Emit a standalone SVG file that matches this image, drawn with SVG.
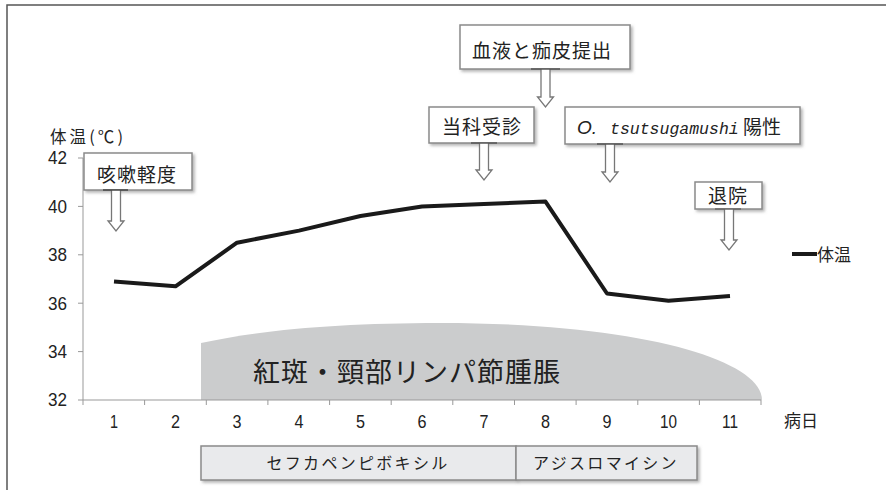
<svg xmlns="http://www.w3.org/2000/svg" width="886" height="490" viewBox="0 0 886 490">
<defs>
<filter id="sh" x="-10%" y="-20%" width="130%" height="160%">
<feDropShadow dx="2" dy="2" stdDeviation="1.5" flood-color="#777" flood-opacity="0.55"/>
</filter>
<style>
.jp{font-family:"Noto Sans CJK JP","Noto Sans",sans-serif;fill:#222}
.num{font-family:"Liberation Sans",Arial,sans-serif;fill:#222;font-size:18.5px}
.box{fill:#fff;stroke:#8a8a8a;stroke-width:1.5}
.med{fill:#e9eaec;stroke:#8a8a8a;stroke-width:1.5}
.arr{fill:#fff;stroke:#777;stroke-width:1.3}
.tick{stroke:#999;stroke-width:1}
.lbl{font-size:19px;letter-spacing:1px}
</style>
</defs>
<rect x="0" y="0" width="886" height="490" fill="#fff"/>
<path d="M7,490 V5 H886" fill="none" stroke="#555" stroke-width="1.5"/>

<!-- rash area -->
<g id="rash">
<path d="M201,400 V343 C260,330 340,323 440,323 C640,323 762,360 762,400 Z" fill="#cbcccd"/>
<text class="jp" x="253" y="382" font-size="27" letter-spacing="1">紅斑・頸部リンパ節腫脹</text>
</g>

<!-- axes -->
<g id="axes">
<line x1="83" y1="158" x2="83" y2="400" class="tick"/>
<line x1="83" y1="400" x2="761" y2="400" class="tick"/>
<g class="tick">
<line x1="78" y1="158" x2="83" y2="158"/><line x1="78" y1="206.4" x2="83" y2="206.4"/>
<line x1="78" y1="254.8" x2="83" y2="254.8"/><line x1="78" y1="303.2" x2="83" y2="303.2"/>
<line x1="78" y1="351.6" x2="83" y2="351.6"/><line x1="78" y1="400" x2="83" y2="400"/>
<line x1="83" y1="400" x2="83" y2="405"/><line x1="144.6" y1="400" x2="144.6" y2="405"/>
<line x1="206.3" y1="400" x2="206.3" y2="405"/><line x1="267.9" y1="400" x2="267.9" y2="405"/>
<line x1="329.6" y1="400" x2="329.6" y2="405"/><line x1="391.2" y1="400" x2="391.2" y2="405"/>
<line x1="452.8" y1="400" x2="452.8" y2="405"/><line x1="514.5" y1="400" x2="514.5" y2="405"/>
<line x1="576.1" y1="400" x2="576.1" y2="405"/><line x1="637.8" y1="400" x2="637.8" y2="405"/>
<line x1="699.4" y1="400" x2="699.4" y2="405"/><line x1="761" y1="400" x2="761" y2="405"/>
</g>
<g class="num" text-anchor="end">
<text x="67" y="164" textLength="19" lengthAdjust="spacingAndGlyphs">42</text>
<text x="67" y="212.5" textLength="19" lengthAdjust="spacingAndGlyphs">40</text>
<text x="67" y="261" textLength="19" lengthAdjust="spacingAndGlyphs">38</text>
<text x="67" y="309.5" textLength="19" lengthAdjust="spacingAndGlyphs">36</text>
<text x="67" y="358" textLength="19" lengthAdjust="spacingAndGlyphs">34</text>
<text x="67" y="406" textLength="19" lengthAdjust="spacingAndGlyphs">32</text>
</g>
<g class="num">
<text x="110" y="428" textLength="8" lengthAdjust="spacingAndGlyphs">1</text>
<text x="171" y="428" textLength="9" lengthAdjust="spacingAndGlyphs">2</text>
<text x="232.5" y="428" textLength="9" lengthAdjust="spacingAndGlyphs">3</text>
<text x="294.5" y="428" textLength="9" lengthAdjust="spacingAndGlyphs">4</text>
<text x="356" y="428" textLength="9" lengthAdjust="spacingAndGlyphs">5</text>
<text x="417.5" y="428" textLength="9" lengthAdjust="spacingAndGlyphs">6</text>
<text x="479.5" y="428" textLength="9" lengthAdjust="spacingAndGlyphs">7</text>
<text x="541" y="428" textLength="9" lengthAdjust="spacingAndGlyphs">8</text>
<text x="602.5" y="428" textLength="9" lengthAdjust="spacingAndGlyphs">9</text>
<text x="660" y="428" textLength="17" lengthAdjust="spacingAndGlyphs">10</text>
<text x="722" y="428" textLength="16" lengthAdjust="spacingAndGlyphs">11</text>
</g>
<text class="jp" x="50" y="143" font-size="16.5" textLength="73">体温(℃)</text>
<text class="jp" x="784" y="427" font-size="17">病日</text>
</g>

<!-- temperature line -->
<g id="temp-line">
<polyline points="114,281.4 175.5,286.3 237,242.7 299,230.6 360.5,216 422,206.4 484,204 545.5,201.6 607,293.5 668.5,300.8 730,296" fill="none" stroke="#1a1a1a" stroke-width="4" stroke-linejoin="round"/>
</g>

<!-- legend -->
<g id="legend">
<line x1="792" y1="254" x2="817" y2="254" stroke="#1a1a1a" stroke-width="4"/>
<text class="jp" x="817" y="261" font-size="17">体温</text>
</g>

<!-- annotation nodes -->
<g id="n-cough">
<rect x="84" y="153" width="108" height="37" class="box" filter="url(#sh)"/>
<text class="jp lbl" x="97" y="182">咳嗽軽度</text>
</g>
<g id="n-blood">
<rect x="460" y="25" width="170" height="44" class="box" filter="url(#sh)"/>
<text class="jp lbl" x="472" y="58" font-size="20px">血液と痂皮提出</text>
</g>
<g id="n-visit">
<rect x="429" y="107" width="105" height="36" class="box" filter="url(#sh)"/>
<text class="jp lbl" x="442" y="134">当科受診</text>
</g>
<g id="n-positive">
<rect x="565" y="107" width="235" height="37" class="box" filter="url(#sh)"/>
<text y="134" fill="#222"><tspan x="577" font-family="'Liberation Sans',Arial,sans-serif" font-style="italic" font-size="19">O.</tspan><tspan x="610" font-family="'Liberation Mono',monospace" font-style="italic" font-size="16.5">tsutsugamushi</tspan><tspan class="jp" x="743" font-size="19">陽性</tspan></text>
</g>
<g id="n-discharge">
<rect x="695" y="182" width="67" height="27" class="box" filter="url(#sh)"/>
<text class="jp lbl" x="708" y="203">退院</text>
</g>

<!-- medication bars -->
<g id="n-cefcapene">
<rect x="201" y="446" width="315" height="34" class="med" filter="url(#sh)"/>
<text class="jp" x="358" y="469" font-size="16" letter-spacing="2.3" text-anchor="middle">セフカペンピボキシル</text>
</g>
<g id="n-azithromycin">
<rect x="516" y="446" width="181" height="34" class="med" filter="url(#sh)"/>
<text class="jp" x="606" y="469" font-size="16" letter-spacing="2.3" text-anchor="middle">アジスロマイシン</text>
</g>

<!-- connectors (hollow arrows) -->
<g id="connectors">
<path class="arr" d="M111.5,190 V221 H108 L116,231 L124,221 H120.5 V190"/>
<line x1="103" y1="190" x2="128" y2="190" stroke="#444" stroke-width="1.5"/>
<path class="arr" d="M541,69 V97 H537.5 L545.5,107 L553.5,97 H550 V69"/>
<line x1="531" y1="69" x2="560" y2="69" stroke="#555" stroke-width="1.5"/>
<path class="arr" d="M479.5,143 V170 H476 L484,180 L492,170 H488.5 V143"/>
<line x1="471" y1="143" x2="497" y2="143" stroke="#555" stroke-width="1.5"/>
<path class="arr" d="M605.5,144 V172 H602 L610,182 L618,172 H614.5 V144"/>
<line x1="597" y1="144" x2="623" y2="144" stroke="#555" stroke-width="1.5"/>
<path class="arr" d="M724.5,209 V240 H721 L729,250 L737,240 H733.5 V209"/>
<line x1="715" y1="209" x2="741" y2="209" stroke="#666" stroke-width="1.5"/>
</g>
</svg>
